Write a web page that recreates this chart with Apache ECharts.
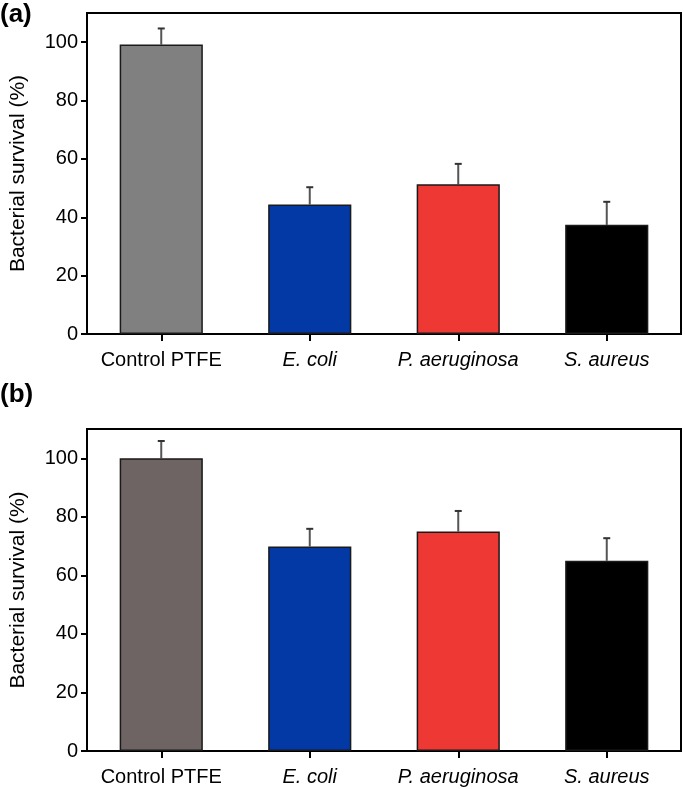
<!DOCTYPE html>
<html>
<head>
<meta charset="utf-8">
<script src="https://cdn.jsdelivr.net/npm/echarts@6/dist/echarts.min.js"></script>
<style>html,body{margin:0;padding:0;background:#fff}#c{width:685px;height:789px}</style>
</head>
<body>
<div id="c"></div>
<script>
const categories = ['Control PTFE', 'E. coli', 'P. aeruginosa', 'S. aureus'];
const italicCats = [false, true, true, true];
const survivalA = [99.2, 44.4, 51.3, 37.4];
const errorA = [5.5, 5.9, 7.0, 7.9];
const survivalB = [100, 69.9, 75.0, 65.0];
const errorB = [5.9, 6.0, 7.0, 7.7];
const colorsA = ['#808080', '#0239a4', '#ee3834', '#000000'];
const colorsB = ['#6e6463', '#0239a4', '#ee3834', '#000000'];
const yTicks = [0, 20, 40, 60, 80, 100];

const FONT = '"Liberation Sans", Arial, Helvetica, sans-serif';
const chart = echarts.init(document.getElementById('c'), null, {renderer: 'canvas'});

function catData() {
  return categories.map((c, i) => ({value: c, textStyle: {fontStyle: italicCats[i] ? 'italic' : 'normal'}}));
}
function xAx(gi) {
  return {
    type: 'category', gridIndex: gi, data: catData(),
    axisLine: {lineStyle: {color: '#000', width: 2}},
    axisTick: {show: true, alignWithLabel: true, interval: 0, length: 7, lineStyle: {color: '#000', width: 2}},
    axisLabel: {interval: 0, hideOverlap: false, color: '#000', fontSize: 20, fontFamily: FONT, margin: 16}
  };
}
function yAx(gi) {
  return {
    type: 'value', gridIndex: gi, min: 0, max: 110, interval: 20,
    name: 'Bacterial survival (%)', nameLocation: 'middle', nameGap: 58,
    nameTextStyle: {color: '#000', fontSize: 21, fontFamily: FONT},
    splitLine: {show: false},
    axisLine: {show: true, lineStyle: {color: '#000', width: 2}},
    axisTick: {show: true, length: 6, customValues: yTicks, lineStyle: {color: '#000', width: 2}},
    axisLabel: {color: '#000', fontSize: 20, fontFamily: FONT, margin: 9, customValues: yTicks}
  };
}
function barSeries(gi, vals, cols) {
  return {
    type: 'bar', xAxisIndex: gi, yAxisIndex: gi, barWidth: '56%',
    data: vals.map((v, i) => ({value: v, itemStyle: {color: cols[i]}})),
    itemStyle: {borderColor: '#1a1a1a', borderWidth: 1.5},
    z: 2
  };
}
function errSeries(gi, vals, errs) {
  return {
    type: 'custom', xAxisIndex: gi, yAxisIndex: gi, z: 1,
    data: vals.map((v, i) => [i, v, v + errs[i]]),
    renderItem: function (params, api) {
      const p0 = api.coord([api.value(0), api.value(1)]);
      const p1 = api.coord([api.value(0), api.value(2)]);
      return {
        type: 'group',
        children: [
          {type: 'line', shape: {x1: p0[0], y1: p0[1], x2: p1[0], y2: p1[1]}, style: {stroke: '#555', lineWidth: 2}},
          {type: 'line', shape: {x1: p1[0] - 3.5, y1: p1[1], x2: p1[0] + 3.5, y2: p1[1]}, style: {stroke: '#333', lineWidth: 2}}
        ]
      };
    }
  };
}

chart.setOption({
  animation: false,
  backgroundColor: '#fff',
  textStyle: {fontFamily: FONT},
  grid: [
    {left: 85, right: 4, top: 13, bottom: 455, show: true, borderColor: '#000', borderWidth: 2},
    {left: 84, right: 4, top: 429, bottom: 38, show: true, borderColor: '#000', borderWidth: 2}
  ],
  xAxis: [xAx(0), xAx(1)],
  yAxis: [yAx(0), yAx(1)],
  series: [
    barSeries(0, survivalA, colorsA),
    errSeries(0, survivalA, errorA),
    barSeries(1, survivalB, colorsB),
    errSeries(1, survivalB, errorB)
  ],
  graphic: [
    {type: 'text', left: 0, top: 2, style: {text: '(a)', font: 'bold 26px ' + FONT, fill: '#000'}},
    {type: 'text', left: 0, top: 382, style: {text: '(b)', font: 'bold 26px ' + FONT, fill: '#000'}}
  ]
});
</script>
</body>
</html>
